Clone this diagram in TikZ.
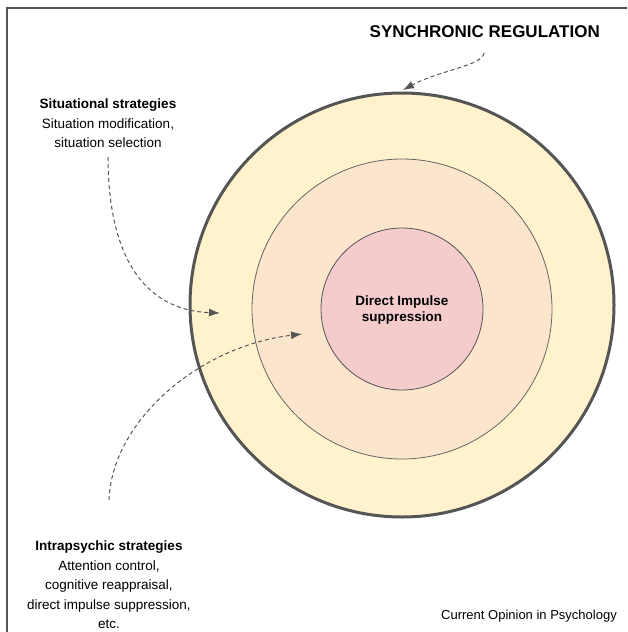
\documentclass[tikz,border=0pt]{standalone}
\usepackage{fontspec}
\setmainfont{Liberation Sans}
\usetikzlibrary{arrows.meta}
\definecolor{ringout}{HTML}{FFF2CC}
\definecolor{ringmid}{HTML}{FCE5CD}
\definecolor{ringin}{HTML}{F4CCCC}
\definecolor{edge}{HTML}{555555}

\begin{document}
\begin{tikzpicture}[x=1pt, y=-1pt,
  note/.style={align=center, inner sep=0pt, font=\fontsize{13.5}{19.5}\selectfont},
  hint/.style={-{Latex[length=11pt, width=8pt]}, edge, line width=1pt, dash pattern=on 4pt off 3pt}]
  \useasboundingbox (0,0) rectangle (627,632);
  % frame
  \draw[edge, line width=1.8pt] (7,632) -- (7,8) -- (627,8);
  % rings
  \filldraw[fill=ringout, draw=edge, line width=3pt] (402,305) circle (212);
  \filldraw[fill=ringmid, draw=edge!90, line width=0.8pt] (402,309) circle (150);
  \filldraw[fill=ringin, draw=edge, line width=0.8pt] (402,309) circle (81);
  % texts
  \node[note, anchor=north, font=\bfseries\fontsize{13.5}{16}\selectfont] (core) at (402,296) {Direct Impulse\\suppression};
  \node[anchor=base east, inner sep=0pt, font=\bfseries\fontsize{17}{20}\selectfont] (title) at (600,37) {SYNCHRONIC REGULATION};
  \node[note, anchor=north] (situational) at (108,99) {\textbf{Situational strategies}\\Situation modification,\\situation selection};
  \node[note, anchor=north] (intrapsychic) at (109,541) {\textbf{Intrapsychic strategies}\\Attention control,\\cognitive reappraisal,\\direct impulse suppression,\\etc.};
  \node[anchor=base east, inner sep=0pt, font=\fontsize{13}{16}\selectfont] (source) at (617,619) {Current Opinion in Psychology};
  % arrows
  \coordinate (syncfrom) at (484,53);
  \coordinate (syncto) at (403,90);
  \coordinate (sitfrom) at (108,157);
  \coordinate (sitto) at (220,313);
  \coordinate (intrafrom) at (109,500);
  \coordinate (intrato) at (302,334);
  \draw[hint] (syncfrom) .. controls (482,66) and (440,70) .. (syncto);
  \draw[hint] (sitfrom) .. controls (108,250) and (140,310) .. (sitto);
  \draw[hint] (intrafrom) .. controls (112,420) and (200,346) .. (intrato);
\end{tikzpicture}
\end{document}
